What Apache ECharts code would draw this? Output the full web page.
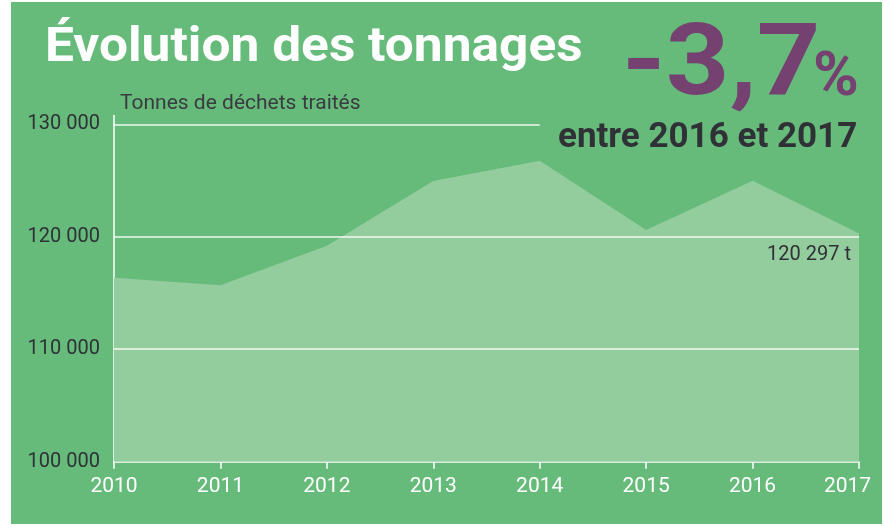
<!DOCTYPE html>
<html>
<head>
<meta charset="utf-8">
<title>Évolution des tonnages</title>
<script src="https://cdn.jsdelivr.net/npm/echarts@6/dist/echarts.min.js"></script>
</head>
<body style="margin:0;background:#fff;">
<div id="main" style="width:884px;height:527px;"></div>
<script>
    // données
    var years = ['2010', '2011', '2012', '2013', '2014', '2015', '2016', '2017'];
    var tonnes = [116350, 115700, 119200, 124950, 126750, 120600, 124980, 120297];
    var yTicks = [100000, 110000, 120000, 130000];
    var titre = 'Évolution des tonnages';
    var unite = 'Tonnes de déchets traités';
    var variation = '-3,7';
    var periode = 'entre 2016 et 2017';

    var fmt = function (v) {
        return String(v).replace(/\B(?=(\d{3})+(?!\d))/g, ' ');
    };

    var dark = '#2f3136';
    var purple = '#744171';

    // lignes de grille (celle du haut s'arrête sous le texte)
    var gridLines = yTicks.slice(1).map(function (v) {
        var end = v === yTicks[yTicks.length - 1] ? years[4] : years[years.length - 1];
        return [{coord: [years[0], v]}, {coord: [end, v]}];
    });

    var myChart = echarts.init(document.getElementById('main'));

    var option = {
        animation: false,
        backgroundColor: 'transparent',
        grid: {left: 114, right: 25, top: 124.3, bottom: 65.3},
        graphic: [
            {type: 'rect', z: -10, shape: {x: 11, y: 2, width: 871, height: 522}, style: {fill: '#66bb7b'}},
            {type: 'line', shape: {x1: 114, y1: 115, x2: 114, y2: 125}, style: {stroke: '#fff', lineWidth: 1.5}},
            {type: 'text', x: 45, y: 48.7, scaleX: 1.05, style: {text: titre, font: 'bold 49px Roboto', fill: '#fff', verticalAlign: 'middle'}},
            {type: 'text', x: 622, y: 69, scaleX: 1.11, style: {text: variation, font: 'bold 100px Roboto', fill: purple, verticalAlign: 'middle'}},
            {type: 'text', x: 813, y: 79, style: {text: '%', font: 'bold 62px Roboto', fill: purple, verticalAlign: 'middle'}},
            {type: 'text', x: 558, y: 137.8, style: {text: periode, font: 'bold 35px Roboto', fill: dark, verticalAlign: 'middle'}}
        ],
        xAxis: {
            type: 'category',
            data: years,
            boundaryGap: false,
            axisLine: {lineStyle: {color: '#fff', width: 1.5}},
            axisTick: {show: true, interval: 0, length: 7, lineStyle: {color: '#fff', width: 1.5}},
            axisLabel: {
                interval: 0,
                color: '#fff', fontSize: 21, fontFamily: 'Roboto', margin: 15,
                formatter: function (v, i) {
                    return i === years.length - 1 ? '{last|' + v + '}' : v;
                },
                rich: {last: {color: '#fff', fontSize: 21, fontFamily: 'Roboto', padding: [0, 23, 0, 0]}}
            }
        },
        yAxis: {
            type: 'value',
            min: yTicks[0],
            max: yTicks[yTicks.length - 1],
            interval: 10000,
            name: unite,
            nameLocation: 'end',
            nameGap: 10,
            nameTextStyle: {color: '#3a3b40', fontSize: 21, fontFamily: 'Roboto', align: 'left', verticalAlign: 'bottom', padding: [0, 0, 0, 6]},
            axisLine: {show: true, lineStyle: {color: '#fff', width: 1.5}},
            axisTick: {show: false},
            splitLine: {show: false},
            axisLabel: {color: dark, fontSize: 20, fontFamily: 'Roboto', margin: 14, formatter: fmt}
        },
        series: [{
            type: 'line',
            data: tonnes,
            symbol: 'none',
            lineStyle: {width: 0},
            areaStyle: {color: '#93cd9e', opacity: 1, origin: 'start'},
            markLine: {
                silent: true,
                symbol: 'none',
                label: {show: false},
                lineStyle: {color: 'rgba(255,255,255,0.9)', width: 1.5, type: 'solid'},
                data: gridLines
            },
            markPoint: {
                silent: true,
                symbol: 'circle',
                symbolSize: 0,
                data: [{
                    coord: [years[years.length - 1], tonnes[tonnes.length - 1]],
                    label: {
                        show: true,
                        position: 'inside',
                        align: 'right',
                        verticalAlign: 'middle',
                        offset: [-8, 22],
                        color: dark,
                        fontSize: 20,
                        fontFamily: 'Roboto',
                        formatter: fmt(tonnes[tonnes.length - 1]) + ' t'
                    }
                }]
            }
        }]
    };

    myChart.setOption(option);
</script>
</body>
</html>
